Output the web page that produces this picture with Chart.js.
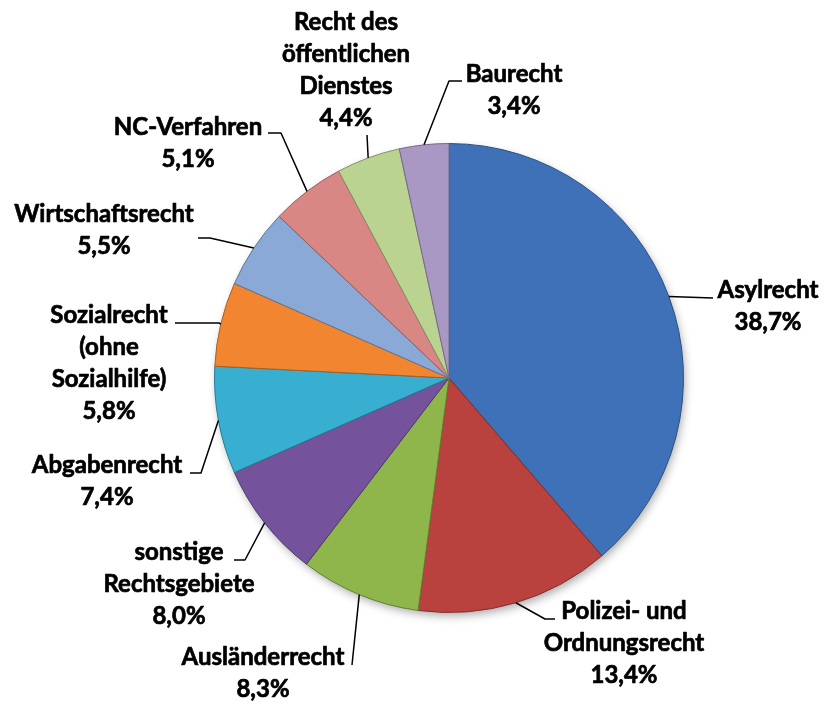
<!DOCTYPE html>
<html>
<head>
<meta charset="utf-8">
<script src="https://cdn.jsdelivr.net/npm/chart.js@4/dist/chart.umd.min.js"></script>
<style>
  html, body { margin: 0; padding: 0; background: #fff; }
  #chartCanvas { display: block; }
</style>
</head>
<body>
<canvas id="chartCanvas" width="825" height="704"></canvas>
<script>
// categories (multi-line labels as drawn next to the pie)
var categories = [
  ['Asylrecht'],
  ['Polizei- und', 'Ordnungsrecht'],
  ['Ausländerrecht'],
  ['sonstige', 'Rechtsgebiete'],
  ['Abgabenrecht'],
  ['Sozialrecht', '(ohne', 'Sozialhilfe)'],
  ['Wirtschaftsrecht'],
  ['NC-Verfahren'],
  ['Recht des', 'öffentlichen', 'Dienstes'],
  ['Baurecht']
];
// share of proceedings in percent
var shares = [38.7, 13.4, 8.3, 8.0, 7.4, 5.8, 5.5, 5.1, 4.4, 3.4];

var sliceColors = ['#3f71b8', '#b9423f', '#8fb64a', '#74539c', '#38afd0',
                   '#f28630', '#8aa9d6', '#d88785', '#bbd391', '#a997c4'];

// label placement: centre x, first baseline y, leader elbow, leader end x
var labelLayout = [
  { cx: 768, y: 298, elbow: [713, 298], endX: 713 },
  { cx: 624, y: 619, elbow: [545, 619], endX: 555 },
  { cx: 263, y: 665, elbow: [352, 665], endX: 352 },
  { cx: 179, y: 560, elbow: [245, 560], endX: 234 },
  { cx: 107, y: 473, elbow: [201, 473], endX: 190 },
  { cx: 109, y: 323, elbow: [219, 323], endX: 175 },
  { cx: 104, y: 222, elbow: [210, 238], endX: 198 },
  { cx: 188, y: 135, elbow: [281, 133], endX: 268 },
  { cx: 346, y: 30, elbow: [367, 135], endX: 367 },
  { cx: 514, y: 82, elbow: [449, 81], endX: 462 }
];

var FONT = 'bold 24px Lato, "Open Sans", sans-serif';
var LINE_H = 32;

function shade(hex, amt) {
  var n = parseInt(hex.slice(1), 16);
  var r = (n >> 16) & 255, g = (n >> 8) & 255, b = n & 255;
  function f(c) {
    return Math.round(amt >= 0 ? c + (255 - c) * amt : c * (1 + amt));
  }
  return 'rgb(' + f(r) + ',' + f(g) + ',' + f(b) + ')';
}

function sliceFill(context) {
  var chart = context.chart;
  var base = sliceColors[context.dataIndex];
  var arc = chart.getDatasetMeta(0).data[context.dataIndex];
  if (!arc || !arc.outerRadius) return base;
  var g = chart.ctx.createRadialGradient(arc.x, arc.y, 0, arc.x, arc.y, arc.outerRadius);
  g.addColorStop(0, shade(base, 0.1));
  g.addColorStop(0.5, shade(base, 0.06));
  g.addColorStop(0.9, base);
  g.addColorStop(1, shade(base, -0.28));
  return g;
}

var shadowPlugin = {
  id: 'pieShadow',
  beforeDatasetsDraw: function(chart) {
    var arc = chart.getDatasetMeta(0).data[0];
    if (!arc) return;
    var ctx = chart.ctx;
    ctx.save();
    ctx.shadowColor = 'rgba(0,0,0,0.35)';
    ctx.shadowBlur = 10;
    ctx.shadowOffsetX = 2;
    ctx.shadowOffsetY = 4;
    ctx.beginPath();
    ctx.arc(arc.x, arc.y, arc.outerRadius - 1, 0, Math.PI * 2);
    ctx.fillStyle = '#888';
    ctx.fill();
    ctx.restore();
  }
};

var labelPlugin = {
  id: 'leaderLabels',
  afterDatasetsDraw: function(chart) {
    var ctx = chart.ctx;
    var meta = chart.getDatasetMeta(0);
    ctx.save();
    meta.data.forEach(function(arc, i) {
      var lay = labelLayout[i];
      var mid = (arc.startAngle + arc.endAngle) / 2;
      var sx = arc.x + Math.cos(mid) * arc.outerRadius;
      var sy = arc.y + Math.sin(mid) * arc.outerRadius;
      ctx.strokeStyle = '#000';
      ctx.lineWidth = 1.5;
      ctx.beginPath();
      ctx.moveTo(sx, sy);
      ctx.lineTo(lay.elbow[0], lay.elbow[1]);
      ctx.lineTo(lay.endX, lay.elbow[1]);
      ctx.stroke();

      var lines = categories[i].concat([shares[i].toFixed(1).replace('.', ',') + '%']);
      ctx.fillStyle = '#000';
      ctx.font = FONT;
      ctx.textAlign = 'center';
      ctx.textBaseline = 'alphabetic';
      ctx.lineWidth = 0.7;
      ctx.lineJoin = 'round';
      lines.forEach(function(t, k) {
        ctx.fillText(t, lay.cx, lay.y + k * LINE_H);
        ctx.strokeText(t, lay.cx, lay.y + k * LINE_H);
      });
    });
    ctx.restore();
  }
};

new Chart(document.getElementById('chartCanvas'), {
  type: 'pie',
  data: {
    labels: categories,
    datasets: [{
      data: shares,
      backgroundColor: sliceFill,
      borderColor: sliceColors.map(function(c) { return shade(c, -0.3); }),
      borderWidth: 1
    }]
  },
  options: {
    responsive: false,
    animation: false,
    layout: { padding: { left: 214, right: 141, top: 143, bottom: 91 } },
    plugins: {
      legend: { display: false },
      tooltip: { enabled: false }
    }
  },
  plugins: [shadowPlugin, labelPlugin]
});
</script>
</body>
</html>
